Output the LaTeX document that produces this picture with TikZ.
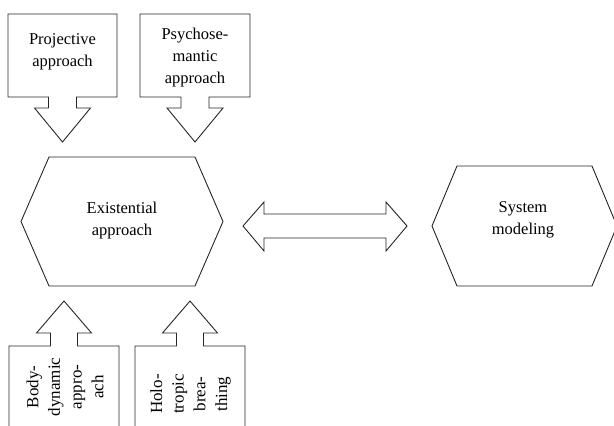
\documentclass[tikz,border=0pt]{standalone}
\usepackage{fontspec}
\setmainfont{Liberation Serif}
\begin{document}
\begin{tikzpicture}[x=1pt,y=-1pt,
  outline/.style={draw=black!85, line width=0.9pt, line join=miter},
  lbl/.style={align=center, font=\fontsize{16.5}{22}\selectfont, inner sep=0pt},
  vlbl/.style={align=center, font=\fontsize{17}{21.7}\selectfont, inner sep=0pt, rotate=90}]
\useasboundingbox (0,0) rectangle (614,426);
\clip (0,0) rectangle (614,426);
% top-left box with down arrow
\draw[outline] (8,14) -- (117,14) -- (117,97) -- (76.5,97) -- (76.5,108) -- (90.5,108) -- (62.5,142)
  -- (34.5,108) -- (48.5,108) -- (48.5,97) -- (8,97) -- cycle;
\node[lbl] (proj) at (62.5,52) {Projective\\approach};
% top-right box with down arrow
\draw[outline] (140,14) -- (250,14) -- (250,97) -- (209,97) -- (209,108) -- (223,108) -- (195,142)
  -- (167,108) -- (181,108) -- (181,97) -- (140,97) -- cycle;
\node[lbl] (psy) at (195,58) {Psychose-\\mantic\\approach};
% existential hexagon
\draw[outline] (49,157) -- (195,157) -- (223,221.5) -- (195,286) -- (49,286) -- (21,221.5) -- cycle;
\node[lbl] (exist) at (122,221) {Existential\\approach};
% system hexagon
\draw[outline] (457,166) -- (592,166) -- (617,226) -- (592,286) -- (457,286) -- (432,226) -- cycle;
\node[lbl] (sys) at (523,220) {System\\modeling};
% double arrow
\draw[outline] (243,226) -- (264,202) -- (264,214) -- (386,214) -- (386,202) -- (407,226)
  -- (386,251) -- (386,238) -- (264,238) -- (264,251) -- cycle;
% bottom-left box with up arrow
\draw[outline] (9,432) -- (9,346) -- (50.5,346) -- (50.5,333) -- (36.5,333) -- (64,301) -- (91.5,333)
  -- (77.5,333) -- (77.5,346) -- (119,346) -- (119,432);
\node[vlbl] (body) at (65,387) {Body-\\dynamic\\appro-\\ach};
% bottom-right box with up arrow
\draw[outline] (135,432) -- (135,346) -- (176.5,346) -- (176.5,333) -- (162.5,333) -- (190,301) -- (217.5,333)
  -- (203.5,333) -- (203.5,346) -- (245,346) -- (245,432);
\node[vlbl] (holo) at (190.5,394) {Holo-\\tropic\\brea-\\thing};
\end{tikzpicture}
\end{document}
